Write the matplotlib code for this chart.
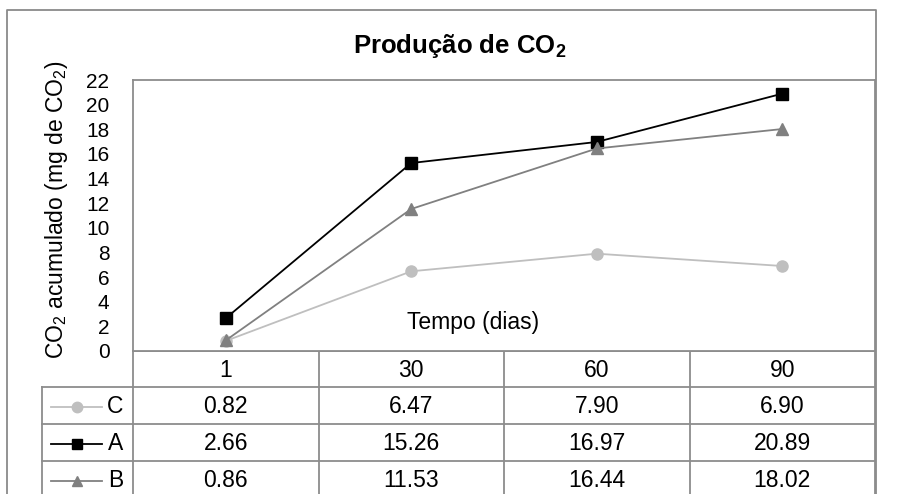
import matplotlib
matplotlib.use('Agg')
import matplotlib.pyplot as plt
import numpy as np

plt.rcParams['font.family'] = ['Liberation Sans', 'DejaVu Sans']
plt.rcParams['mathtext.fontset'] = 'custom'
plt.rcParams['mathtext.rm'] = 'Liberation Sans'
plt.rcParams['mathtext.bf'] = 'Liberation Sans:bold'

# data
dias = ['1', '30', '60', '90']
series = ['C', 'A', 'B']
C = [0.82, 6.47, 7.90, 6.90]
A = [2.66, 15.26, 16.97, 20.89]
B = [0.86, 11.53, 16.44, 18.02]
yticks = list(range(0, 23, 2))

styles = {'C': dict(color='#bfbfbf', marker='o', ms=8),
          'A': dict(color='#000000', marker='s', ms=8),
          'B': dict(color='#808080', marker='^', ms=8)}
vals = {'C': C, 'A': A, 'B': B}

W, H = 902, 494
fig = plt.figure(figsize=(W/100, H/100), dpi=100)

# pixel-coordinate background axes for border and table
bg = fig.add_axes([0, 0, 1, 1])
bg.set_xlim(0, W)
bg.set_ylim(H, 0)
bg.axis('off')

gray = '#8c8c8c'
left, right, top, bottom = 133, 875, 80, 351
fs = 16.5

# outer chart border
bg.plot([7, 7, 876, 876], [H+5, 10, 10, H+5], color='#8a8a8a', lw=1.3)

ax = fig.add_axes([left/W, (H-bottom)/H, (right-left)/W, (bottom-top)/H])
x = np.arange(len(dias))
for s in series:
    st = styles[s]
    ax.plot(x, vals[s], color=st['color'], lw=1.3, marker=st['marker'],
            ms=st['ms'], mec=st['color'], mfc=st['color'], clip_on=False, zorder=3)
ax.set_xlim(-0.5, len(dias)-0.5)
ax.set_ylim(0, 22)
ax.set_yticks(yticks)
ax.set_yticklabels([str(t) for t in yticks], fontsize=15)
ax.tick_params(axis='y', length=0, pad=17)
ax.set_xticks([])
for sp in ax.spines.values():
    sp.set_color(gray)
    sp.set_linewidth(1.3)

fig.text(473/W, 1-323/H, 'Tempo (dias)', ha='center', va='center', fontsize=fs)
fig.text(460/W, 1-46/H, r'Produção de CO$_\mathbf{2}$', ha='center', va='center',
         fontsize=18.5, fontweight='bold')
fig.text(57/W, 1-210/H, r'CO$_2$ acumulado (mg de CO$_2$)', rotation=90,
         ha='center', va='center', fontsize=fs)

# data table
colw = (right-left)/len(dias)
cols = [left + i*colw for i in range(len(dias)+1)]
rows = [351, 387, 424, 461, 498]
leg_left = 42
for yy in rows:
    bg.plot([leg_left if yy > rows[0] else left, right], [yy, yy], color=gray, lw=1.3)
for cx in cols:
    bg.plot([cx, cx], [rows[0], rows[-1]], color=gray, lw=1.3)
bg.plot([leg_left, leg_left], [rows[1], rows[-1]], color=gray, lw=1.3)

for i, d in enumerate(dias):
    bg.text((cols[i]+cols[i+1])/2, (rows[0]+rows[1])/2+1, d, ha='center', va='center', fontsize=fs)
for r, s in enumerate(series):
    yc = (rows[r+1]+rows[r+2])/2 + 1
    st = styles[s]
    bg.plot([51, 102], [yc, yc], color=st['color'], lw=1.3)
    bg.plot([77], [yc], marker=st['marker'], ms=7.5, color=st['color'], mec=st['color'])
    bg.text(123, yc, s, ha='right', va='center', fontsize=fs)
    for i, v in enumerate(vals[s]):
        bg.text((cols[i]+cols[i+1])/2, yc, '%.2f' % v, ha='center', va='center', fontsize=fs)

fig.savefig('out.png', dpi=100)
